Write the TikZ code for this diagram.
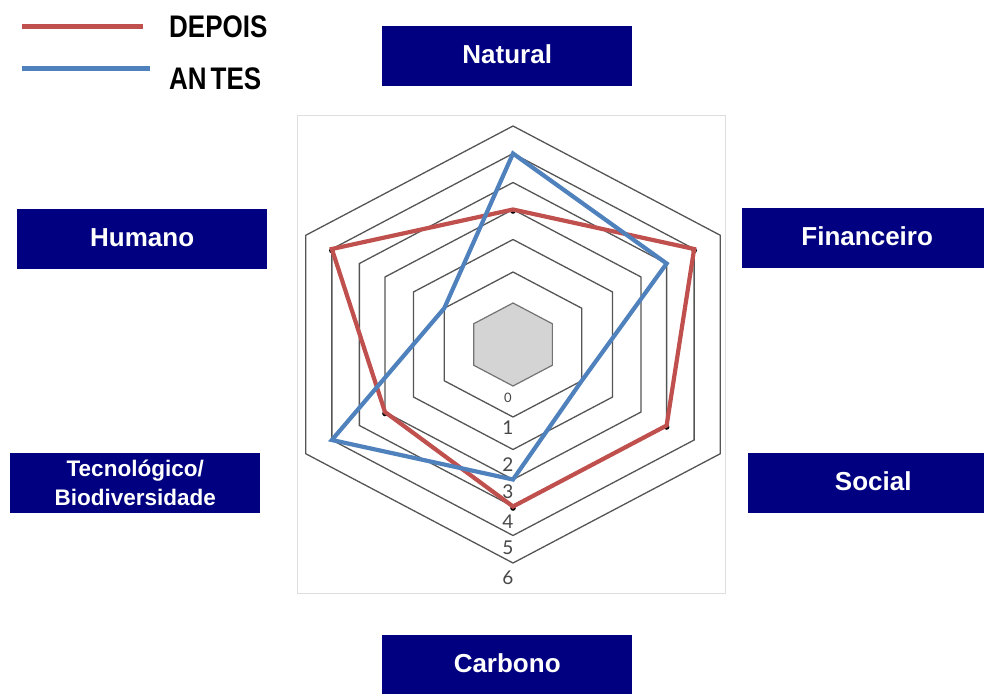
\documentclass[tikz,border=0pt]{standalone}
\usepackage{fontspec}
\usepackage{graphicx}
\setmainfont{Liberation Sans}
\newfontfamily\scalefont{Lato}
\definecolor{boxnavy}{RGB}{0,0,128}
\definecolor{afterred}{RGB}{192,80,77}
\definecolor{beforeblue}{RGB}{79,129,189}
\definecolor{ringgray}{RGB}{85,85,85}
\definecolor{coregray}{RGB}{212,212,212}
\definecolor{framegray}{RGB}{222,222,222}
\begin{document}
\begin{tikzpicture}[x=1pt,y=-1pt,
  navybox/.style={fill=boxnavy, draw=none, inner sep=0pt, anchor=north west,
    text=white, font=\bfseries\fontsize{26}{30}\selectfont},
  capbox/.style={navybox, minimum width=250pt, text height=37pt, text depth=23pt},
  ring/.style={draw=ringgray, line width=1.3pt, line join=miter},
  afterline/.style={draw=afterred, line width=4.2pt, line join=miter},
  beforeline/.style={draw=beforeblue, line width=4.2pt, line join=miter},
  scalelabel/.style={text=black!72, font=\scalefont\fontsize{19}{19}\selectfont, inner sep=0pt},
  legendtext/.style={anchor=west, inner sep=0pt, font=\bfseries\fontsize{26}{30}\selectfont},
]
\fill[white] (0,0) rectangle (984,693);
\useasboundingbox (0,0) rectangle (984,693);

% legend
\coordinate (la1) at (22,27);
\coordinate (la2) at (143,27);
\coordinate (lb1) at (22,68);
\coordinate (lb2) at (150,68);
\draw[afterline, line width=5pt] (la1) -- (la2);
\draw[beforeline, line width=5pt] (lb1) -- (lb2);
\node[legendtext] (depois) at (169,26.5) {\scalebox{1}[1.2]{DEPOIS}};
\node[legendtext] (antes) at (169,79) {\scalebox{1}[1.2]{AN\kern4pt TES}};

% chart frame
\draw[framegray, line width=1pt] (297,115) rectangle (725,593);

% radar chart: six axes, rings 0..6
\begin{scope}[shift={(513,344.5)}, x=1.095pt, y=1pt]
  \filldraw[fill=coregray, draw=black!55, line width=1.2pt]
    (90:41.5) -- (30:41.5) -- (-30:41.5) -- (-90:41.5) -- (-150:41.5) -- (150:41.5) -- cycle;
  \foreach \r in {72.5,105,135,162,191,218.5}
    \draw[ring] (90:\r) -- (30:\r) -- (-30:\r) -- (-90:\r) -- (-150:\r) -- (150:\r) -- cycle;

  % after (red)
  \coordinate (rN) at (90:135);
  \coordinate (rF) at (30:191);
  \coordinate (rS) at (-30:162);
  \coordinate (rC) at (-90:162);
  \coordinate (rT) at (-150:135);
  \coordinate (rH) at (150:191);
  % before (blue)
  \coordinate (bN) at (90:191);
  \coordinate (bF) at (30:162);
  \coordinate (bS) at (-30:72.5);
  \coordinate (bC) at (-90:135);
  \coordinate (bT) at (-150:191);
  \coordinate (bH) at (150:72.5);

  \draw[black, line width=1.8pt, yshift=-1.5pt] (rN) -- (rF) -- (rS) -- (rC) -- (rT) -- (rH) -- cycle;
  \foreach \p in {rN,rF,rS,rC,rT,rH}
    \fill[black] ([yshift=-1.5pt]\p) circle[radius=2.8pt];
  \draw[afterline] (rN) -- (rF) -- (rS) -- (rC) -- (rT) -- (rH) -- cycle;
  \draw[beforeline] (bN) -- (bF) -- (bS) -- (bC) -- (bT) -- (bH) -- cycle;
\end{scope}

% scale values
\node[scalelabel] (v0) at (508,398) {\fontsize{13}{13}\selectfont 0};
\node[scalelabel] (v1) at (508,428) {1};
\node[scalelabel] (v2) at (508,465) {2};
\node[scalelabel] (v3) at (508,492) {3};
\node[scalelabel] (v4) at (508,522) {4};
\node[scalelabel] (v5) at (508,548) {5};
\node[scalelabel] (v6) at (508,578) {6};

% capital labels
\node[capbox] (natural) at (382,26) {Natural};
\node[capbox] (humano) at (17,209) {Humano};
\node[capbox] (financeiro) at (742,208) {Financeiro};
\node[capbox] (social) at (748,453) {Social};
\node[capbox] (carbono) at (382,635) {Carbono};
\node[navybox, minimum width=250pt, minimum height=60pt, align=center,
  font=\bfseries\fontsize{22.5}{29}\selectfont] (tecno) at (10,453) {Tecnológico/\\Biodiversidade};
\end{tikzpicture}
\end{document}
